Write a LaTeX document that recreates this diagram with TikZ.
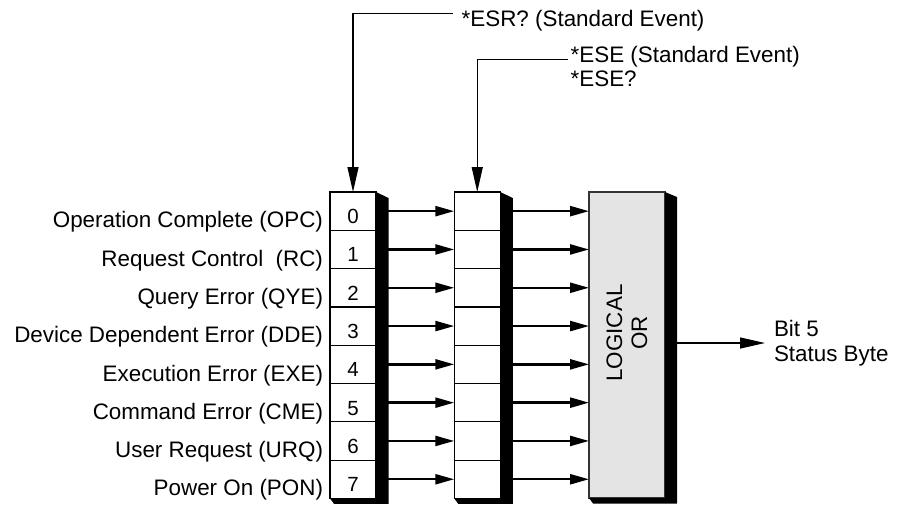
\documentclass[tikz,border=0pt]{standalone}
\usepackage{fontspec}
\setmainfont{Liberation Sans}
\usetikzlibrary{arrows.meta,calc}
\definecolor{orgray}{RGB}{228,228,228}
\tikzset{
  cell/.style={draw=black, line width=1.2pt, fill=white, minimum width=46pt,
    minimum height=38.3pt, inner sep=0pt, outer sep=0pt,
    font=\fontsize{20.5}{22}\selectfont, text height=24.8pt, text depth=0pt},
  orbox/.style={draw=black!80, line width=1.1pt, fill=orgray, minimum width=76pt,
    minimum height=306pt, inner sep=0pt, outer sep=0pt},
  txt/.style={font=\fontsize{22.4}{25}\selectfont, inner sep=0pt, outer sep=0pt},
  shadowfill/.style={fill=black},
  regarr/.style={line width=2.4pt, -{Triangle[length=19pt,width=10pt]}},
  toparr/.style={line width=1.2pt, -{Triangle[length=25pt,width=11pt]}},
}
\begin{document}
\begin{tikzpicture}[x=1pt,y=-1pt]
\useasboundingbox (0,0) rectangle (899,504);
% register cells
\foreach \i/\t in {0/Operation Complete (OPC),1/Request Control\ \ (RC),2/Query Error (QYE),3/Device Dependent Error (DDE),4/Execution Error (EXE),5/Command Error (CME),6/User Request (URQ),7/Power On (PON)}{
  \node[cell] (r\i) at (353,{211.15+38.3*\i}) {\i};
  \node[cell] (m\i) at (477.25,{211.15+38.3*\i}) {};
  \node[txt, anchor=base east] (l\i) at ($(r\i.south west)+(-7,-2.5)$) {\t};
}
% shadows
\fill[shadowfill] (r0.north east) -- ++(12.5,6) -- ($(r7.south east)+(12.5,5.5)$)
  -- ($(r7.south west)+(4,5.5)$) -- (r7.south west) -- (r7.south east) -- cycle;
\fill[shadowfill] (m0.north east) -- ++(12.5,6) -- ($(m7.south east)+(12.5,5.5)$)
  -- ($(m7.south west)+(4,5.5)$) -- (m7.south west) -- (m7.south east) -- cycle;
% logical OR box
\node[orbox] (or) at (627,345) {};
\fill[shadowfill] (or.north east) -- ++(12,5) -- ($(or.south east)+(12,5.5)$)
  -- ($(or.south west)+(4,5.5)$) -- (or.south west) -- (or.south east) -- cycle;
\node[txt, rotate=90, align=center] (ortxt) at (627,333) {LOGICAL\\OR};
% arrows
\foreach \i in {0,...,7}{
  \draw[regarr] ($(r\i.east)+(12,0)$) -- (m\i.west);
  \draw[regarr] ($(m\i.east)+(12,0)$) -- (or.west |- m\i.east);
}
% top connectors
\coordinate (c1) at (453,13.3);
\node[txt, anchor=base west] (esr) at (461.7,26.7) {*ESR? (Standard Event)};
\draw[toparr] (c1) -| (r0.north);
\coordinate (c2) at (568,59.3);
\node[txt, anchor=base west] (ese1) at (570.7,62) {*ESE (Standard Event)};
\node[txt, anchor=base west] (ese2) at (570.7,86) {*ESE?};
\draw[toparr] (c2) -| (m0.north);
% output
\coordinate (bout) at (765,343);
\draw[toparr] ($(or.east)+(12,-2)$) -- (bout);
\node[txt, anchor=base west] (bit5) at (774,336.7) {Bit 5};
\node[txt, anchor=base west] (sbyte) at (774,361.7) {Status Byte};
\end{tikzpicture}
\end{document}
